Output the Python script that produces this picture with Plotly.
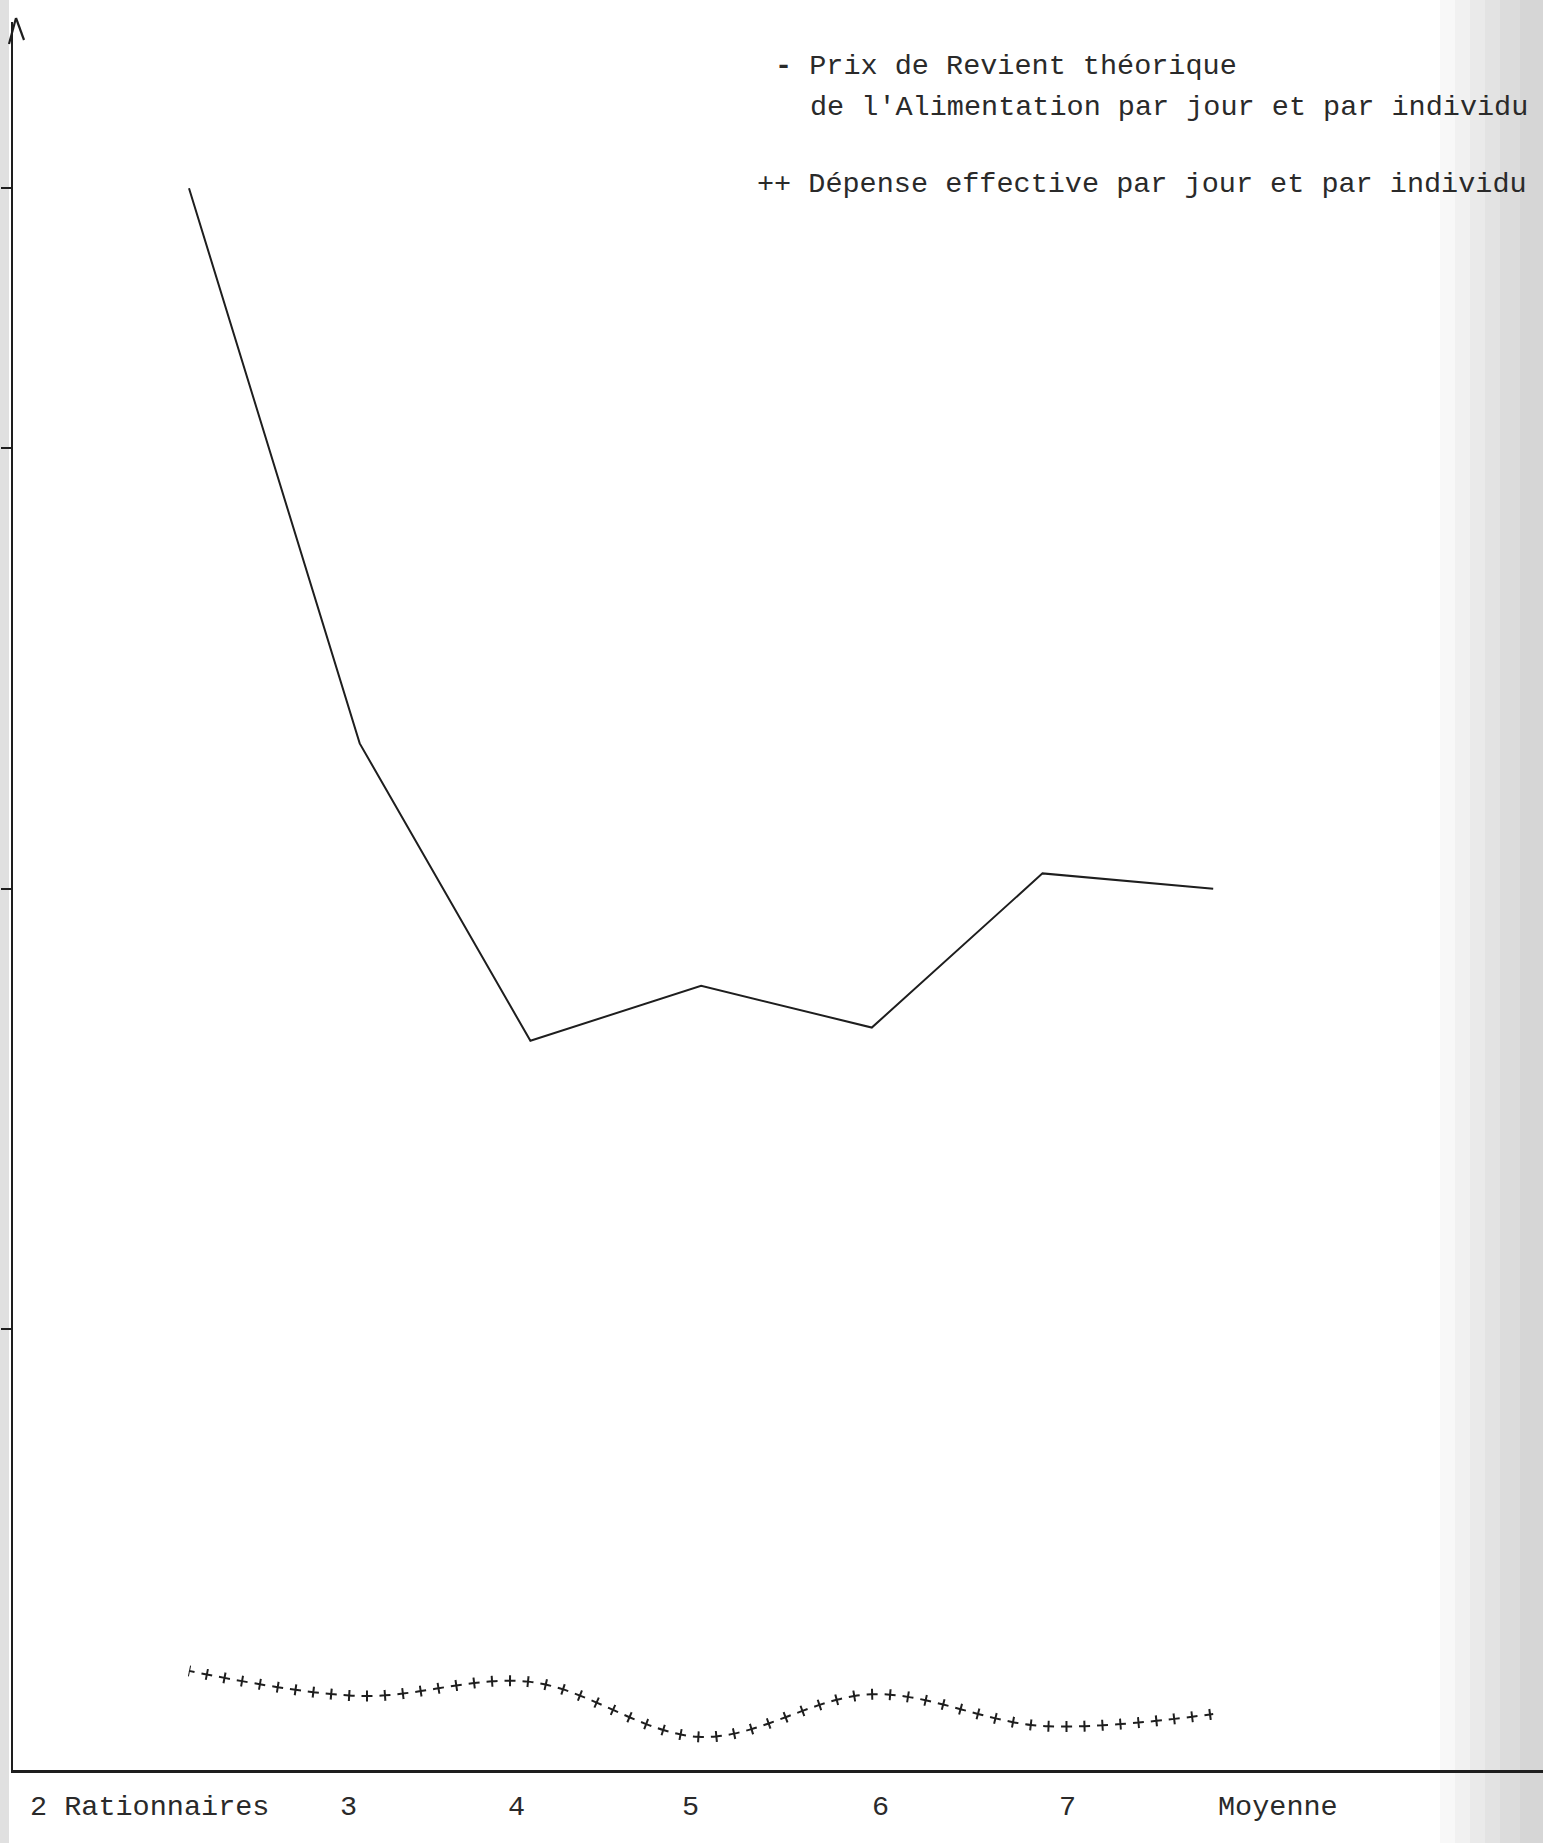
import plotly.graph_objects as go

# ---------------- data ----------------
categories = ["2 Rationnaires", "3", "4", "5", "6", "7", "Moyenne"]
prix_theorique = [3.59, 2.33, 1.655, 1.78, 1.685, 2.035, 2.0]
depense_effective = [0.225, 0.168, 0.20, 0.075, 0.172, 0.10, 0.127]
y_tick_values = [1, 2, 3]
legend_theorique = ["- Prix de Revient théorique",
                    "de l'Alimentation par jour et par individu"]
legend_depense = "++ Dépense effective par jour et par individu"

# ---------------- layout constants (pixels) ----------------
W, H = 1543, 1843
PLOT_L, PLOT_B, PLOT_T = 13, 1770, 22      # px of y-axis, x-axis, top of y-axis
X0_PX, X_UNIT = 189, 170.7                 # px of first category, px per category
Y_UNIT = 440.6                             # px per y unit
INK = "#1e1e1e"
TEXT = "#2a2a2a"
FONT = "Liberation Mono"
FS = 28.5

x_idx = list(range(len(categories)))
x_range = [(PLOT_L - X0_PX) / X_UNIT, (W - X0_PX) / X_UNIT]
y_range = [0, (PLOT_B - PLOT_T) / Y_UNIT]

def px(x):
    return x / W

def py(y):
    return 1 - y / H

fig = go.Figure()

# theoretical cost: solid line
fig.add_trace(go.Scatter(
    x=x_idx, y=prix_theorique, mode="lines",
    line=dict(color=INK, width=2), showlegend=False, hoverinfo="skip"))

# actual spending: line of typed "+" marks (two dashed strokes on same path)
fig.add_trace(go.Scatter(
    x=x_idx, y=depense_effective, mode="lines",
    line=dict(color=INK, width=2, shape="spline",
              dash="5.5px,7px,5.5px,0px"),
    showlegend=False, hoverinfo="skip"))
fig.add_trace(go.Scatter(
    x=x_idx, y=depense_effective, mode="lines",
    line=dict(color=INK, width=11, shape="spline",
              dash="1px,16px,1px,0px"),
    showlegend=False, hoverinfo="skip"))

shapes = []
# scanned-paper edges
shapes.append(dict(type="rect", xref="paper", yref="paper", x0=0, x1=px(9),
                   y0=0, y1=1, fillcolor="#e0e0e0", line_width=0, layer="below"))
edge = [(1440, 1455, "#f8f8f8"), (1455, 1470, "#f1f1f1"), (1470, 1485, "#eaeaea"),
        (1485, 1500, "#e3e3e3"), (1500, 1520, "#dcdcdc"), (1520, W, "#d6d6d6")]
for x0, x1, c in edge:
    shapes.append(dict(type="rect", xref="paper", yref="paper", x0=px(x0), x1=px(x1),
                       y0=0, y1=1, fillcolor=c, line_width=0, layer="below"))
# arrow head on the y axis
for bx, by in [(9, 44), (24, 40)]:
    shapes.append(dict(type="line", xref="paper", yref="paper",
                       x0=px(16), y0=py(18), x1=px(bx), y1=py(by),
                       line=dict(color=INK, width=2.2)))

annotations = []
# legend text
annotations.append(dict(xref="paper", yref="paper", x=px(773), y=py(66),
                        xanchor="left", yanchor="middle", showarrow=False,
                        text="<b>" + legend_theorique[0][0] + "</b>" + legend_theorique[0][1:],
                        font=dict(family=FONT, size=FS, color=TEXT)))
annotations.append(dict(xref="paper", yref="paper", x=px(808), y=py(108),
                        xanchor="left", yanchor="middle", showarrow=False,
                        text=legend_theorique[1],
                        font=dict(family=FONT, size=FS, color=TEXT)))
annotations.append(dict(xref="paper", yref="paper", x=px(755), y=py(185),
                        xanchor="left", yanchor="middle", showarrow=False,
                        text=legend_depense,
                        font=dict(family=FONT, size=FS, color=TEXT)))

# category labels (typed under the axis, slightly offset from the points)
label_offsets = [-0.234, -0.063, -0.079, -0.06, 0.05, 0.145, 0.38]
for i, lab in enumerate(categories):
    annotations.append(dict(xref="x", yref="paper", x=x_idx[i] + label_offsets[i],
                            y=py(1807), xanchor="center", yanchor="middle",
                            showarrow=False, text=lab,
                            font=dict(family=FONT, size=FS, color=TEXT)))

fig.update_layout(
    template="none",
    width=W, height=H,
    margin=dict(l=0, r=0, t=0, b=0, pad=0),
    paper_bgcolor="white", plot_bgcolor="rgba(0,0,0,0)",
    shapes=shapes, annotations=annotations, showlegend=False,
    xaxis=dict(domain=[px(PLOT_L), 1], range=x_range, showgrid=False, zeroline=False,
               showticklabels=False, ticks="", showline=True, linecolor=INK,
               linewidth=2.5, automargin=False),
    yaxis=dict(domain=[py(PLOT_B), py(PLOT_T)], range=y_range, showgrid=False,
               zeroline=False, showticklabels=False, ticks="outside", ticklen=10,
               tickwidth=2, tickcolor=INK,
               tickvals=y_tick_values + [prix_theorique[0]],
               showline=True, linecolor=INK, linewidth=2.5, automargin=False),
)

fig.write_html("out.html",
               config={"displayModeBar": False, "staticPlot": True},
               post_script="document.body.style.margin='0px';"
                           "document.body.style.padding='0px';"
                           "document.body.style.overflow='hidden';")
